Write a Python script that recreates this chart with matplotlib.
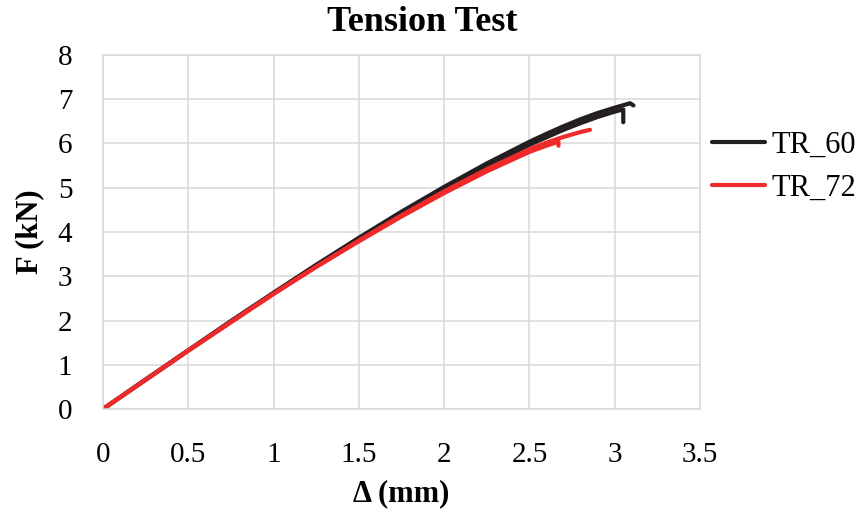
import matplotlib
matplotlib.use("Agg")
import matplotlib.pyplot as plt

# displacement (mm) / force (kN), one list pair per specimen
tr60_a_x = [0, 0.25, 0.5, 0.75, 1.0, 1.25, 1.5, 1.75, 2.0, 2.25, 2.5, 2.6, 2.7, 2.8, 2.9, 3.0, 3.09, 3.11]
tr60_a_f = [0, 0.67, 1.33, 1.99, 2.63, 3.26, 3.87, 4.46, 5.02, 5.55, 6.04, 6.22, 6.39, 6.55, 6.69, 6.81, 6.91, 6.86]
tr60_b_x = [0, 0.25, 0.5, 0.75, 1.0, 1.25, 1.5, 1.75, 2.0, 2.25, 2.5, 2.6, 2.7, 2.8, 2.9, 3.0, 3.05, 3.05]
tr60_b_f = [0, 0.66, 1.32, 1.97, 2.61, 3.24, 3.84, 4.42, 4.97, 5.49, 5.97, 6.14, 6.31, 6.46, 6.60, 6.72, 6.77, 6.48]

tr72_a_x = [0, 0.25, 0.5, 0.75, 1.0, 1.25, 1.5, 1.75, 2.0, 2.25, 2.5, 2.6, 2.7, 2.8, 2.855]
tr72_a_f = [0, 0.66, 1.32, 1.97, 2.61, 3.22, 3.81, 4.38, 4.92, 5.42, 5.87, 6.02, 6.15, 6.26, 6.31]
tr72_b_x = [0, 0.25, 0.5, 0.75, 1.0, 1.25, 1.5, 1.75, 2.0, 2.25, 2.5, 2.6, 2.67, 2.67]
tr72_b_f = [0, 0.66, 1.32, 1.96, 2.60, 3.21, 3.79, 4.35, 4.88, 5.37, 5.81, 5.95, 6.04, 5.95]

x_ticks = [0, 0.5, 1, 1.5, 2, 2.5, 3, 3.5]
x_labels = ["0", "0.5", "1", "1.5", "2", "2.5", "3", "3.5"]
y_ticks = [0, 1, 2, 3, 4, 5, 6, 7, 8]

black = "#231f20"
red = "#ee2a2a"
grid_col = "#d9d9d9"

plt.rcParams["font.family"] = ["Liberation Serif", "DejaVu Serif"]

fig = plt.figure(figsize=(8.62, 5.13), dpi=100)
ax = fig.add_axes([0.1195, 0.2027, 0.6926, 0.6901])

#black specimens first, red ones drawn on top
ax.plot(tr60_a_x, tr60_a_f, color=black, lw=3.0, label="TR_60", solid_capstyle="round")
ax.plot(tr60_b_x, tr60_b_f, color=black, lw=3.0, solid_capstyle="round")
ax.plot(tr72_a_x, tr72_a_f, color=red, lw=3.0, label="TR_72", solid_capstyle="round")
ax.plot(tr72_b_x, tr72_b_f, color=red, lw=3.0, solid_capstyle="round")

ax.set_xlim(0, 3.5)
ax.set_ylim(0, 8)
ax.set_xticks(x_ticks)
ax.set_xticklabels(x_labels)
ax.set_yticks(y_ticks)
ax.tick_params(length=0, labelsize=21)
ax.tick_params(axis="x", pad=24)
ax.tick_params(axis="y", pad=22)
ax.grid(True, color=grid_col, lw=1.1)
ax.set_axisbelow(True)
for s in ax.spines.values():
    s.set_color(grid_col)
    s.set_linewidth(1.1)

ax.set_xlabel("Δ (mm)", fontsize=22, fontweight="bold", labelpad=8)
ax.set_ylabel("F (kN)", fontsize=22, fontweight="bold", labelpad=10)
fig.text(0.49, 0.957, "Tension Test", fontsize=26, fontweight="bold",
         ha="center", va="center")

fig.legend(loc="upper left", bbox_to_anchor=(0.826, 0.745), frameon=False,
           fontsize=22, handlelength=1.75, handletextpad=0.2, borderpad=0,
           borderaxespad=0, labelspacing=0.45)

fig.savefig("out.png", dpi=100)
